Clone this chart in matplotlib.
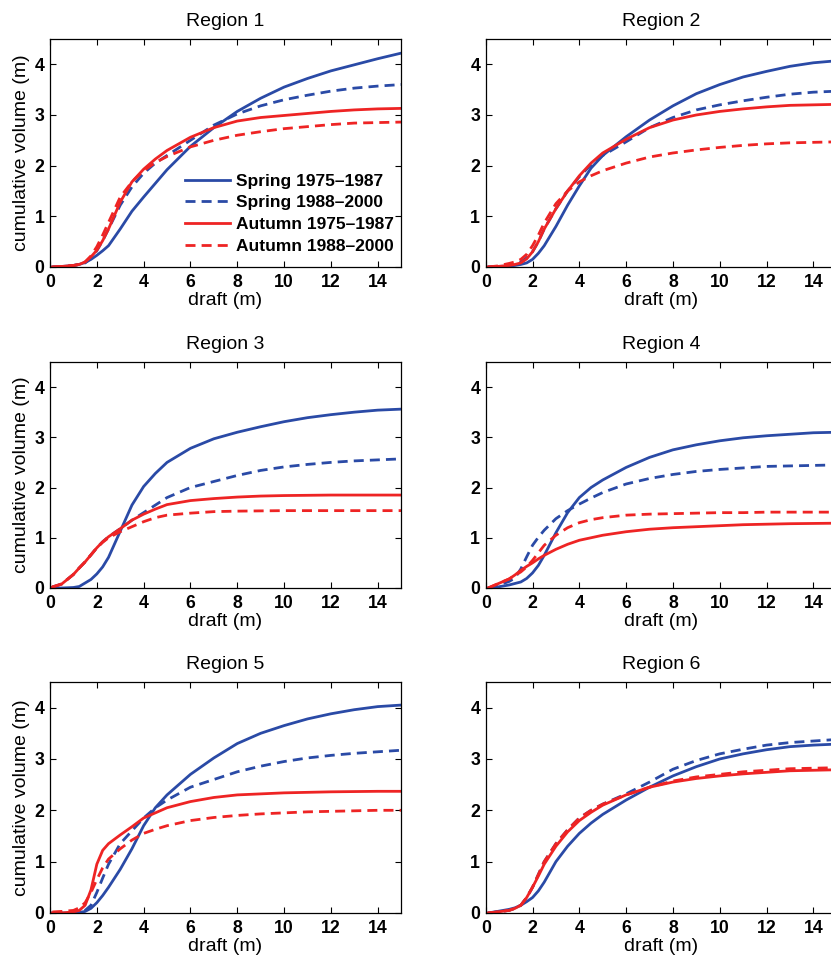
import matplotlib
matplotlib.use("Agg")
import matplotlib.pyplot as plt

plt.rcParams["font.family"] = ["Liberation Sans", "DejaVu Sans"]

# draft (m), shared sampling grid for all curves
draft = [0.1, 0.5, 1, 1.25, 1.5, 1.75, 2, 2.25, 2.5, 3, 3.5, 4, 4.5, 5,
         6, 7, 8, 9, 10, 11, 12, 13, 14, 15]

series_labels = ["Spring 1975\u20131987", "Spring 1988\u20132000",
                 "Autumn 1975\u20131987", "Autumn 1988\u20132000"]
region_titles = ["Region 1", "Region 2", "Region 3",
                 "Region 4", "Region 5", "Region 6"]

# cumulative volume (m)
r1_spring_75 = [0, 0.01, 0.03, 0.05, 0.09, 0.15, 0.23, 0.32, 0.42, 0.75, 1.1, 1.38, 1.65, 1.92,
                2.38, 2.75, 3.07, 3.33, 3.55, 3.72, 3.87, 3.99, 4.11, 4.22]
r1_spring_88 = [0, 0.01, 0.03, 0.05, 0.08, 0.17, 0.32, 0.52, 0.75, 1.22, 1.58, 1.85, 2.05, 2.2,
                2.5, 2.8, 3.02, 3.18, 3.3, 3.39, 3.47, 3.53, 3.57, 3.6]
r1_autumn_75 = [0, 0.01, 0.03, 0.05, 0.1, 0.2, 0.33, 0.52, 0.75, 1.28, 1.68, 1.93, 2.13, 2.3,
                2.56, 2.75, 2.88, 2.95, 2.99, 3.03, 3.07, 3.1, 3.12, 3.13]
r1_autumn_88 = [0, 0.01, 0.03, 0.05, 0.1, 0.22, 0.4, 0.63, 0.88, 1.38, 1.68, 1.9, 2.06, 2.18,
                2.37, 2.5, 2.6, 2.67, 2.73, 2.77, 2.81, 2.84, 2.85, 2.86]

r2_spring_75 = [0, 0.01, 0.02, 0.03, 0.05, 0.08, 0.15, 0.27, 0.42, 0.8, 1.22, 1.6, 1.95, 2.2,
                2.57, 2.9, 3.18, 3.42, 3.6, 3.75, 3.86, 3.96, 4.03, 4.07]
r2_spring_88 = [0, 0.01, 0.03, 0.05, 0.1, 0.18, 0.3, 0.5, 0.75, 1.15, 1.5, 1.78, 2.02, 2.2,
                2.47, 2.75, 2.95, 3.1, 3.2, 3.28, 3.35, 3.41, 3.45, 3.47]
r2_autumn_75 = [0, 0.01, 0.03, 0.05, 0.08, 0.16, 0.3, 0.5, 0.75, 1.15, 1.5, 1.8, 2.05, 2.25,
                2.52, 2.75, 2.9, 3.0, 3.07, 3.12, 3.16, 3.19, 3.2, 3.21]
r2_autumn_88 = [0, 0.02, 0.07, 0.1, 0.15, 0.25, 0.42, 0.63, 0.87, 1.25, 1.5, 1.68, 1.8, 1.9,
                2.05, 2.17, 2.25, 2.31, 2.36, 2.4, 2.43, 2.45, 2.46, 2.47]

r3_spring_75 = [0, 0, 0.01, 0.03, 0.1, 0.17, 0.28, 0.42, 0.61, 1.13, 1.65, 2.02, 2.28, 2.5,
                2.78, 2.97, 3.1, 3.21, 3.31, 3.39, 3.45, 3.5, 3.54, 3.56]
r3_spring_88 = [0.02, 0.08, 0.27, 0.4, 0.52, 0.66, 0.8, 0.92, 1.02, 1.18, 1.35, 1.5, 1.65, 1.8,
                2.0, 2.12, 2.24, 2.34, 2.41, 2.46, 2.5, 2.53, 2.55, 2.57]
r3_autumn_75 = [0.02, 0.08, 0.27, 0.4, 0.52, 0.66, 0.8, 0.92, 1.02, 1.18, 1.35, 1.47, 1.57, 1.66,
                1.74, 1.78, 1.81, 1.83, 1.84, 1.845, 1.85, 1.85, 1.85, 1.85]
r3_autumn_88 = [0.02, 0.08, 0.27, 0.4, 0.52, 0.66, 0.8, 0.91, 1.0, 1.12, 1.22, 1.32, 1.4, 1.45,
                1.49, 1.52, 1.53, 1.535, 1.54, 1.54, 1.54, 1.54, 1.54, 1.54]

r4_spring_75 = [0, 0.02, 0.06, 0.09, 0.12, 0.19, 0.3, 0.45, 0.65, 1.1, 1.5, 1.8, 2.0, 2.15,
                2.4, 2.6, 2.75, 2.85, 2.93, 2.99, 3.03, 3.06, 3.09, 3.1]
r4_spring_88 = [0, 0.05, 0.13, 0.2, 0.38, 0.62, 0.85, 1.01, 1.15, 1.38, 1.54, 1.67, 1.79, 1.9,
                2.07, 2.18, 2.26, 2.32, 2.36, 2.39, 2.42, 2.43, 2.44, 2.45]
r4_autumn_75 = [0, 0.08, 0.18, 0.26, 0.35, 0.43, 0.5, 0.58, 0.65, 0.77, 0.87, 0.95, 1.0, 1.05,
                1.12, 1.17, 1.2, 1.22, 1.24, 1.26, 1.27, 1.28, 1.285, 1.29]
r4_autumn_88 = [0, 0.08, 0.18, 0.25, 0.32, 0.42, 0.55, 0.7, 0.85, 1.05, 1.2, 1.3, 1.36, 1.4,
                1.45, 1.47, 1.48, 1.49, 1.5, 1.5, 1.51, 1.51, 1.51, 1.51]

r5_spring_75 = [0, 0, 0, 0.01, 0.03, 0.09, 0.2, 0.34, 0.5, 0.85, 1.25, 1.7, 2.05, 2.3,
                2.7, 3.02, 3.3, 3.5, 3.65, 3.78, 3.88, 3.96, 4.02, 4.05]
r5_spring_88 = [0, 0, 0.01, 0.02, 0.05, 0.15, 0.4, 0.68, 0.95, 1.35, 1.6, 1.85, 2.05, 2.2,
                2.45, 2.6, 2.75, 2.86, 2.95, 3.02, 3.07, 3.11, 3.14, 3.17]
r5_autumn_75 = [0, 0, 0.02, 0.05, 0.15, 0.45, 0.95, 1.22, 1.35, 1.52, 1.68, 1.85, 1.95, 2.05,
                2.17, 2.25, 2.3, 2.32, 2.34, 2.35, 2.36, 2.365, 2.37, 2.37]
r5_autumn_88 = [0.02, 0.03, 0.05, 0.1, 0.2, 0.4, 0.65, 0.88, 1.05, 1.25, 1.42, 1.55, 1.63, 1.7,
                1.8, 1.86, 1.9, 1.93, 1.95, 1.97, 1.98, 1.99, 2.0, 2.0]

r6_spring_75 = [0, 0.03, 0.07, 0.1, 0.15, 0.22, 0.3, 0.43, 0.6, 1.0, 1.3, 1.55, 1.75, 1.92,
                2.2, 2.45, 2.67, 2.85, 3.0, 3.1, 3.18, 3.24, 3.27, 3.29]
r6_spring_88 = [0, 0.02, 0.05, 0.09, 0.15, 0.3, 0.5, 0.75, 1.0, 1.35, 1.62, 1.85, 2.0, 2.12,
                2.32, 2.55, 2.8, 2.97, 3.1, 3.19, 3.27, 3.32, 3.35, 3.38]
r6_autumn_75 = [0, 0.02, 0.05, 0.09, 0.15, 0.3, 0.5, 0.72, 0.95, 1.3, 1.58, 1.8, 1.96, 2.1,
                2.3, 2.45, 2.55, 2.62, 2.67, 2.71, 2.74, 2.77, 2.78, 2.79]
r6_autumn_88 = [0, 0.02, 0.05, 0.09, 0.15, 0.3, 0.5, 0.75, 1.0, 1.35, 1.62, 1.85, 2.0, 2.12,
                2.3, 2.45, 2.57, 2.65, 2.7, 2.75, 2.78, 2.81, 2.82, 2.83]

regions = [
    (r1_spring_75, r1_spring_88, r1_autumn_75, r1_autumn_88),
    (r2_spring_75, r2_spring_88, r2_autumn_75, r2_autumn_88),
    (r3_spring_75, r3_spring_88, r3_autumn_75, r3_autumn_88),
    (r4_spring_75, r4_spring_88, r4_autumn_75, r4_autumn_88),
    (r5_spring_75, r5_spring_88, r5_autumn_75, r5_autumn_88),
    (r6_spring_75, r6_spring_88, r6_autumn_75, r6_autumn_88),
]

blue = "#2a4aa6"
red = "#ee2424"
dashed = (0, (3.6, 2.2))
styles = [(blue, "-"), (blue, dashed), (red, "-"), (red, dashed)]

fig = plt.figure(figsize=(8.31, 9.6), dpi=100)

# panel positions in figure fraction (right column runs slightly off the page)
col_left = [0.0602, 0.5845]
row_bottom = [0.7219, 0.3875, 0.0490]
row_height = [0.2375, 0.2355, 0.2406]
width = 0.4224

for i, (title, curves) in enumerate(zip(region_titles, regions)):
    row, col = divmod(i, 2)
    ax = fig.add_axes([col_left[col], row_bottom[row], width, row_height[row]])
    for vals, (c, ls), lab in zip(curves, styles, series_labels):
        ax.plot(draft, vals, color=c, linestyle=ls, linewidth=2.0, label=lab)

    ax.set_xlim(0, 15)
    ax.set_ylim(0, 4.5)
    ax.set_xticks(range(0, 15, 2))
    ax.set_yticks(range(0, 5))
    ax.tick_params(direction="in", top=True, right=True, length=4, width=0.8,
                   labelsize=12.7)
    ax.tick_params(axis="x", pad=5)
    ax.tick_params(axis="y", pad=4)
    for lab in ax.get_xticklabels() + ax.get_yticklabels():
        lab.set_fontweight("bold")
    for sp in ax.spines.values():
        sp.set_linewidth(0.9)

    ax.set_title(title, fontsize=14, pad=9)
    ax.set_xlabel("draft (m)", fontsize=14, labelpad=1)
    if col == 0:
        ax.set_ylabel("cumulative volume (m)", fontsize=14, labelpad=3)

    if i == 0:
        ax.legend(loc="upper left", bbox_to_anchor=(0.385, 0.41), frameon=False,
                  borderaxespad=0, borderpad=0, handlelength=2.6,
                  handletextpad=0.3, labelspacing=0.38,
                  prop={"size": 12.5, "weight": "bold"})

fig.savefig("out.png", dpi=100)
